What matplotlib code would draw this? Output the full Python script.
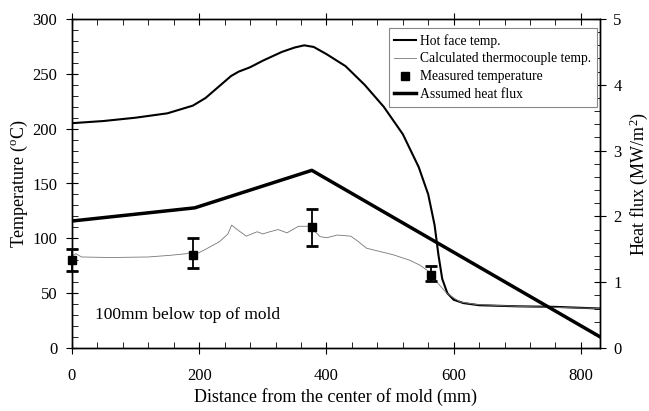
import matplotlib.pyplot as plt
from matplotlib.ticker import MultipleLocator

plt.rcParams['font.family'] = ['Liberation Serif', 'DejaVu Serif']
plt.rcParams['mathtext.fontset'] = 'custom'
plt.rcParams['mathtext.rm'] = 'Liberation Serif'

# hot face temperature (C)
hot_x = [0, 50, 100, 150, 190, 210, 230, 250, 262, 280, 300, 330, 350, 365, 380, 400, 430,
         460, 490, 520, 545, 560, 570, 576, 582, 590, 600, 615, 640, 700, 760, 830]
hot_T = [205, 207, 210, 214, 221, 228, 238, 248, 252, 256, 262, 270, 274, 276, 274.5, 268,
         257, 240, 220, 195, 165, 140, 112, 85, 63, 50, 44, 41, 39, 38, 37.5, 36]

# calculated thermocouple temperature (C)
tc_x = [0, 6, 15, 60, 120, 154, 180, 190, 198, 210, 232, 245, 251, 262, 274, 291, 300,
        311, 324, 338, 356, 374, 390, 401, 417, 438, 448, 463, 484, 505, 531, 547, 558,
        573, 589, 610, 636, 700, 830]
tc_T = [84, 86, 83, 82.5, 83, 84.5, 86, 88, 86.5, 90, 97, 104, 112, 107, 102, 106, 104,
        106, 108, 105, 111, 111, 101.5, 100.6, 103, 102, 98, 91, 88, 85, 80, 75.5, 71,
        60.5, 50, 42, 39.6, 38, 36]

# measured temperature with error range (C)
meas_x = [0, 190, 377, 565]
meas_T = [80, 85, 110, 67]
meas_lo = [70, 73, 93, 61]
meas_hi = [90, 100, 127, 75]

# assumed heat flux (MW/m2)
flux_x = [0, 193, 377, 830]
flux_q = [1.93, 2.13, 2.70, 0.17]

fig = plt.figure(figsize=(6.49, 4.11), dpi=100)
ax = fig.add_axes([72 / 649, 1 - 348 / 411, 528 / 649, 329 / 411])
ax2 = ax.twinx()

h1, = ax.plot(hot_x, hot_T, color='black', lw=1.5, label='Hot face temp.')
h2, = ax.plot(tc_x, tc_T, color='#777777', lw=0.6, label='Calculated thermocouple temp.')
yerr = [[t - lo for t, lo in zip(meas_T, meas_lo)], [hi - t for t, hi in zip(meas_T, meas_hi)]]
ax.errorbar(meas_x, meas_T, yerr=yerr, fmt='none', ecolor='black', elinewidth=1.3,
            capsize=4, capthick=2, clip_on=False, zorder=4)
h3, = ax.plot(meas_x, meas_T, 's', color='black', ms=6, ls='none', clip_on=False,
              zorder=5, label='Measured temperature')
h4, = ax2.plot(flux_x, flux_q, color='black', lw=2.5, label='Assumed heat flux')

ax.text(36, 30, '100mm below top of mold', fontsize=12.5, va='center')

ax.set_xlim(0, 830)
ax.set_ylim(0, 300)
ax2.set_ylim(0, 5)

ax.xaxis.set_major_locator(MultipleLocator(200))
ax.xaxis.set_minor_locator(MultipleLocator(40))
ax.yaxis.set_major_locator(MultipleLocator(50))
ax.yaxis.set_minor_locator(MultipleLocator(10))
ax2.yaxis.set_major_locator(MultipleLocator(1))
ax2.yaxis.set_minor_locator(MultipleLocator(0.2))

ax.tick_params(which='major', direction='inout', length=9, width=0.8, labelsize=12)
ax.tick_params(which='minor', direction='in', length=4, width=0.6)
ax.tick_params(axis='x', which='both', top=True)
ax.tick_params(axis='x', which='major', pad=10)
ax.tick_params(axis='y', which='both', right=False)
ax.tick_params(axis='y', which='major', pad=6)
ax2.tick_params(which='major', direction='inout', length=9, width=0.8, labelsize=12, pad=5)
ax2.tick_params(which='minor', direction='in', length=4, width=0.6)

for a in (ax, ax2):
    for s in a.spines.values():
        s.set_linewidth(1.0)

ax.set_xlabel('Distance from the center of mold (mm)', fontsize=13, labelpad=3)
ax.set_ylabel('Temperature ($\\mathregular{^o}$C)', fontsize=13, labelpad=2)
ax2.set_ylabel('Heat flux (MW/m$\\mathregular{^2}$)', fontsize=13, labelpad=4)

leg = ax2.legend(handles=[h1, h2, h3, h4], loc='upper right',
                 bbox_to_anchor=(0.9943, 0.9726), borderaxespad=0, fontsize=9.8,
                 fancybox=False, edgecolor='#888888', framealpha=1,
                 handlelength=1.6, handletextpad=0.3, labelspacing=0.36, borderpad=0.42)
leg.get_frame().set_linewidth(0.8)

fig.savefig('out.png', dpi=100)
